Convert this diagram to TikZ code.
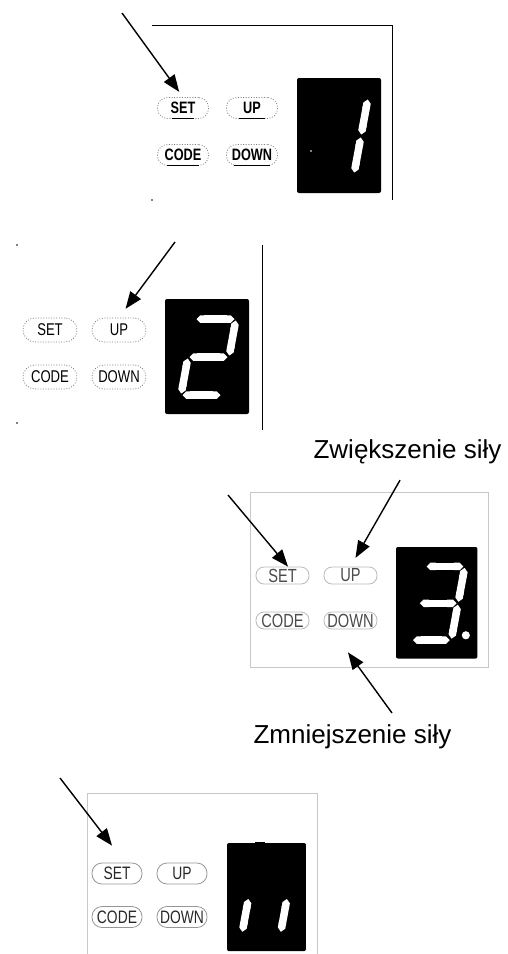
\documentclass[tikz,border=0pt]{standalone}
\usepackage{fontspec}
\setmainfont{Liberation Sans}
\newfontfamily\btnfont[FakeStretch=0.77]{Liberation Sans}
\usetikzlibrary{arrows.meta,calc}

\definecolor{boxgray}{RGB}{200,200,200}
\definecolor{pillgray}{RGB}{185,185,185}
\definecolor{pilldark}{RGB}{150,150,150}
\definecolor{textgray}{RGB}{75,75,75}
\definecolor{textdark}{RGB}{40,40,40}

\tikzset{every picture/.style={line width=0.75pt}}
\tikzset{
	arr/.style={-{Triangle[length=17pt,width=13pt]},line width=1.4pt},
	dotbtn/.style={rectangle,rounded corners=10pt,draw=gray,dash pattern=on 1pt off 1.6pt,minimum width=51pt,minimum height=21pt,inner sep=0pt},
	pillbtn/.style={rectangle,rounded corners=8pt,draw=#1,line width=0.8pt,minimum width=53pt,minimum height=17pt,inner sep=0pt},
	segm/.style={white,line width=7.5pt,{Triangle Cap[]}-{Triangle Cap[]},shorten <=1.5pt,shorten >=1.5pt},
	screen/.style={fill=black,rounded corners=2pt},
	bigtext/.style={anchor=base,font=\fontsize{26}{30}\selectfont},
}
% corners of the slanted seven segment digit
\newcommand\segcorners{%
	\coordinate (tl) at (30,20); \coordinate (tr) at (71,20);
	\coordinate (ml) at (23,58); \coordinate (mr) at (64,58);
	\coordinate (bl) at (16,96); \coordinate (br) at (57,96);}

\begin{document}
\begin{tikzpicture}[x=1pt,y=1pt,yscale=-1,xscale=1]
	\useasboundingbox (0,0) rectangle (508,954);

	% panel 1
	\draw (152,25) -- (392,25) -- (392,200);
	\fill (152,200) circle [radius=0.8];
	\begin{scope}[shift={(297,78)}]
		\fill[screen] (0,0) rectangle (84,115);
		\segcorners
		\draw[segm] (tr) -- (mr);
		\draw[segm] (mr) -- (br);
		\fill[gray] (13,72) rectangle (15,74);
	\end{scope}
	\begin{scope}[every node/.style={dotbtn,font=\btnfont\bfseries\fontsize{16.5}{16.5}\selectfont}]
		\node (set1) at (183,108) {SET};
		\node (up1) at (252,108) {UP};
		\node (code1) at (183,155) {CODE};
		\node (down1) at (252,155) {DOWN};
	\end{scope}
	\foreach \b/\w in {set1/11,up1/13,code1/16,down1/18}
		\draw[line width=1pt] ([xshift=-\w pt]\b.south) -- ([xshift=\w pt]\b.south);
	\coordinate (t1) at (122,13);
	\draw[arr,shorten >=6.5pt] (t1) -- (set1.north);

	% panel 2
	\draw (262,245) -- (262,430);
	\fill (17,245) circle [radius=0.8];
	\fill (17,423) circle [radius=0.8];
	\begin{scope}[shift={(165,299)}]
		\fill[screen] (0,0) rectangle (84,115);
		\segcorners
		\draw[segm] (tl) -- (tr);
		\draw[segm] (tr) -- (mr);
		\draw[segm] (ml) -- (mr);
		\draw[segm] (ml) -- (bl);
		\draw[segm] (bl) -- (br);
	\end{scope}
	\begin{scope}[every node/.style={dotbtn,rounded corners=12pt,minimum width=54pt,minimum height=24pt,font=\btnfont\fontsize{17}{17}\selectfont}]
		\node (set2) at (50,330) {SET};
		\node (up2) at (119,330) {UP};
		\node (code2) at (50,377) {CODE};
		\node (down2) at (119,377) {DOWN};
	\end{scope}
	\coordinate (t2) at (175,242);
	\draw[arr,shorten >=11pt] (t2) -- (up2.north);

	% panel 3
	\node[bigtext] (lblup) at (407.5,458) {Zwiększenie siły};
	\draw[boxgray] (250,492) rectangle (488,667);
	\begin{scope}[shift={(396,547)},scale=0.97]
		\fill[screen] (0,0) rectangle (84,115);
		\segcorners
		\draw[segm] (tl) -- (tr);
		\draw[segm] (tr) -- (mr);
		\draw[segm] (ml) -- (mr);
		\draw[segm] (mr) -- (br);
		\draw[segm] (bl) -- (br);
		\fill[white] (72,91) circle [radius=4.2];
	\end{scope}
	\begin{scope}[every node/.style={pillbtn=pillgray,text=textgray,font=\btnfont\fontsize{19}{19}\selectfont}]
		\node (set3) at (282.5,575.5) {SET};
		\node (up3) at (350.5,575.5) {UP};
		\node (code3) at (282.5,620.5) {CODE};
		\node (down3) at (350.5,620.5) {DOWN};
	\end{scope}
	\coordinate (t3) at (228,495);
	\draw[arr] (t3) -- ($(set3.north)+(5.5,0)$);
	\draw[arr,shorten <=15pt,shorten >=10pt] (lblup.south) -- (up3.north);
	\node[bigtext] (lbldown) at (352.5,743) {Zmniejszenie siły};
	\coordinate (t4) at (392,713);
	\draw[arr] (t4) -- ($(down3.south)+(-2.5,23)$);

	% panel 4
	\draw[boxgray] (87,954) -- (87,793) -- (317,793) -- (317,954);
	\begin{scope}[shift={(227,843)},scale=0.94]
		\fill[screen] (0,0) rectangle (84,115);
		\fill (30,-1.5) rectangle (40,1);
		\segcorners
		\draw[segm] (ml) -- (bl);
		\draw[segm] (mr) -- (br);
	\end{scope}
	\begin{scope}[every node/.style={pillbtn=pilldark,rounded corners=10pt,minimum width=50pt,minimum height=21pt,text=textdark,font=\btnfont\fontsize{18}{18}\selectfont}]
		\node (set4) at (117,873.5) {SET};
		\node (up4) at (182,873.5) {UP};
		\node (code4) at (117,917) {CODE};
		\node (down4) at (182,917) {DOWN};
	\end{scope}
	\coordinate (t5) at (60,778);
	\draw[arr] (t5) -- ($(set4.north)+(-5,-17)$);

\end{tikzpicture}
\end{document}
